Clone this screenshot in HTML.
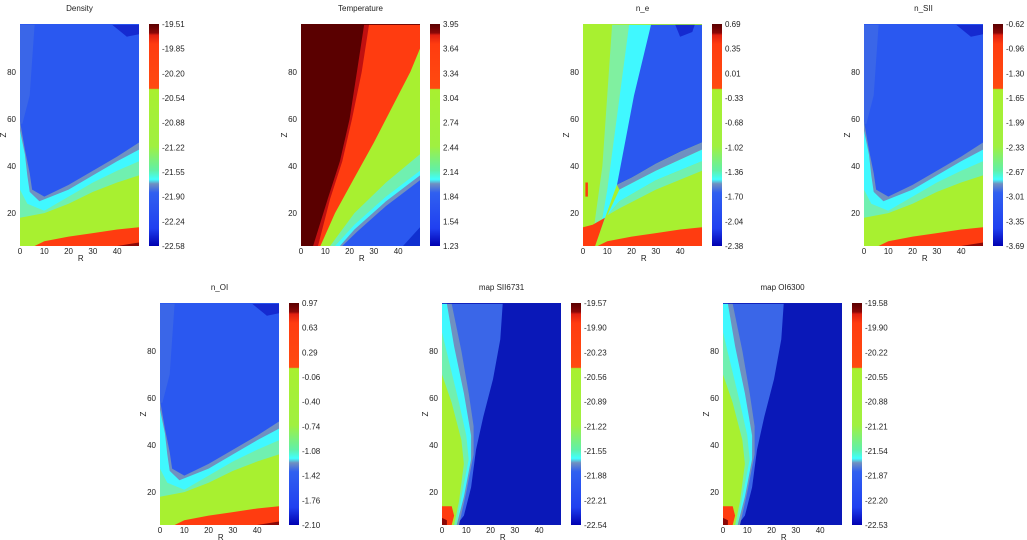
<!DOCTYPE html>
<html><head><meta charset="utf-8"><style>
html,body{margin:0;padding:0;background:#fff;}
svg{display:block;font-family:"Liberation Sans",sans-serif;}
text{font-size:8px;fill:#222;}
</style></head><body>
<svg id="fig" width="1027" height="540" viewBox="0 0 1027 540">
<defs>
<linearGradient id="cmap" x1="0" y1="0" x2="0" y2="1">
<stop offset="0" stop-color="#5a0000"/><stop offset="0.04" stop-color="#8a0808"/>
<stop offset="0.05" stop-color="#e02010"/><stop offset="0.09" stop-color="#ff3c10"/>
<stop offset="0.29" stop-color="#ff4a10"/><stop offset="0.295" stop-color="#a8f030"/>
<stop offset="0.55" stop-color="#a0f040"/><stop offset="0.66" stop-color="#60f0a8"/>
<stop offset="0.7" stop-color="#40ffff"/><stop offset="0.72" stop-color="#7090c0"/>
<stop offset="0.76" stop-color="#3060f0"/><stop offset="0.92" stop-color="#2040f0"/>
<stop offset="1" stop-color="#0000b0"/>
</linearGradient>
</defs>
</svg>
<script>
const titles=["Density","Temperature","n_e","n_SII","n_OI","map SII6731","map OI6300"];
const cbDensity=["-19.51","-19.85","-20.20","-20.54","-20.88","-21.22","-21.55","-21.90","-22.24","-22.58"];
const cbTemp=["3.95","3.64","3.34","3.04","2.74","2.44","2.14","1.84","1.54","1.23"];
const cbNe=["0.69","0.35","0.01","-0.33","-0.68","-1.02","-1.36","-1.70","-2.04","-2.38"];
const cbNSII=["-0.62","-0.96","-1.30","-1.65","-1.99","-2.33","-2.67","-3.01","-3.35","-3.69"];
const cbNOI=["0.97","0.63","0.29","-0.06","-0.40","-0.74","-1.08","-1.42","-1.76","-2.10"];
const cbSII=["-19.57","-19.90","-20.23","-20.56","-20.89","-21.22","-21.55","-21.88","-22.21","-22.54"];
const cbOI=["-19.58","-19.90","-20.22","-20.55","-20.88","-21.21","-21.54","-21.87","-22.20","-22.53"];
const xTicks=[0,10,20,30,40];
const yTicks=[20,40,60,80];
const densityLayers=[
 ["#3a66e8",[[0,100],[6,100],[4,70],[1,58],[0,58]]],
 ["#7090c0",[[0,59],[2,47],[4,37],[5,30],[10,27],[20,32],[30,38],[40,44],[49,50],[49,6],[0,6]]],
 ["#40f8ff",[[0,55],[2,45],[3,36],[4,29],[8,25],[20,30],[30,36],[40,42],[49,47],[49,6],[0,6]]],
 ["#70f0b0",[[0,30],[3,24],[10,21],[20,27],[30,33],[40,38],[49,42],[49,6],[0,6]]],
 ["#a8f030",[[0,18],[10,20],[20,24],[30,29],[40,33],[49,36],[49,6],[0,6]]],
 ["#ff3c10",[[6,6],[10,8],[20,10],[30,11.5],[40,13],[49,14],[49,6]]],
 ["#8a0808",[[40,6],[49,7.5],[49,6]]],
 ["#152ad0",[[38,100],[44,95],[49,96],[49,100]]]
];
const tempLayers=[
 ["#c01010",[[26,100],[23,80],[20,60],[16,42],[11,26],[5,6],[49,6],[49,100]]],
 ["#ff3c10",[[28,100],[25,80],[21,60],[17,42],[12,26],[7,6],[49,6],[49,100]]],
 ["#a8f030",[[49,90],[45,80],[38,66],[30,50],[22,35],[14,20],[8,6],[49,6]]],
 ["#70f0b0",[[49,45],[35,33],[22,20],[12,6],[49,6]]],
 ["#40f8ff",[[49,38],[35,27],[22,15],[14,6],[49,6]]],
 ["#7090c0",[[49,36],[35,25],[22,13],[16,6],[49,6]]],
 ["#2a58f0",[[49,34],[35,23],[23,12],[17,6],[49,6]]],
 ["#1030d0",[[49,14],[42,6],[49,6]]]
];
const neLayers=[
 ["#80f0a0",[[12,100],[26,100],[20,70],[14,40],[9,18],[4,10],[8,40]]],
 ["#40f8ff",[[19,100],[28,100],[22,70],[15,35],[7,12],[10,30]]],
 ["#2a58f0",[[28,100],[21,70],[14,32],[20,35],[30,41],[40,46],[49,50],[49,100]]],
 ["#7090c0",[[14,32],[20,35],[30,41],[40,46],[49,50],[49,47],[30,38],[15,30]]],
 ["#40f8ff",[[15,30],[30,38],[49,47],[49,42],[30,34],[15,25],[10,19]]],
 ["#70f0b0",[[10,19],[15,25],[30,34],[49,42],[49,38],[30,30],[15,22]]],
 ["#ff3c10",[[6,6],[10,8],[20,10],[30,11.5],[40,13],[49,14],[49,6]]],
 ["#ff3c10",[[0,6],[0,14],[4,15],[9,18],[5,6]]],
 ["#ff3c10",[[1,27],[2,27],[2,33],[1,33]]],
 ["#152ad0",[[40,95],[45,97],[46,100],[38,100]]]
];
const mapSIILayers=[
 ["#3a66e8",[[0,100],[25,100],[24,85],[21,68],[17,52],[14,38],[12,22],[9,10],[6,6],[0,6]]],
 ["#7090c0",[[0,100],[4,100],[8,80],[11,62],[13,48],[13,36],[10,20],[7,6],[0,6]]],
 ["#40f8ff",[[0,100],[2,100],[5,82],[9,62],[12,44],[12,34],[9,18],[6,6],[0,6]]],
 ["#70f0b0",[[0,88],[3,75],[7,58],[10,44],[11,34],[8,18],[6,6],[0,6]]],
 ["#a8f030",[[0,70],[4,58],[8,42],[9,32],[7,16],[5,6],[0,6]]],
 ["#ff3c10",[[0,6],[0,14],[4,14],[5,10],[4,6]]],
 ["#8a0808",[[0,6],[0,9],[2,8],[2,6]]]
];
const panels=[
 {px:20,py:24,cb:cbDensity,layers:densityLayers,bg:"#2a58f0"},
 {px:301,py:24,cb:cbTemp,layers:tempLayers,bg:"#5a0000"},
 {px:583,py:24,cb:cbNe,layers:neLayers,bg:"#a8f030"},
 {px:864,py:24,cb:cbNSII,layers:densityLayers,bg:"#2a58f0"},
 {px:160,py:303,cb:cbNOI,layers:densityLayers,bg:"#2a58f0"},
 {px:442,py:303,cb:cbSII,layers:mapSIILayers,bg:"#0a18b8"},
 {px:723,py:303,cb:cbOI,layers:mapSIILayers,bg:"#0a18b8"}
];
const NS="http://www.w3.org/2000/svg";
const svg=document.getElementById('fig');
function mk(tag,attrs,parent){const e=document.createElementNS(NS,tag);for(const k in attrs)e.setAttribute(k,attrs[k]);(parent||svg).appendChild(e);return e;}
const W=119,H=222,RMAX=49,ZMIN=6,ZMAX=100.4;
panels.forEach((p,i)=>{
 const g=mk('g',{});
 
 
 const xs=r=>p.px+r/RMAX*W, ys=z=>p.py+(ZMAX-z)/(ZMAX-ZMIN)*H;
 const clipId='c'+i;
 const cp=mk('clipPath',{id:clipId},g);mk('rect',{x:p.px,y:p.py,width:W,height:H},cp);
 const bg=mk('rect',{x:p.px,y:p.py,width:W,height:H,fill:p.bg},g);
 
 
 const lg=mk('g',{'clip-path':'url(#'+clipId+')'},g);
 p.layers.forEach(l=>{
  const pg=mk('polygon',{points:l[1].map(q=>xs(q[0]).toFixed(1)+','+ys(q[1]).toFixed(1)).join(' '),fill:l[0]},lg);
  
  
 });
 const t=mk('text',{x:p.px+W/2,y:p.py-13,'text-anchor':'middle'},g);t.textContent=titles[i];
 
 
 xTicks.forEach(v=>{const tx=mk('text',{x:xs(v),y:p.py+H+8,'text-anchor':'middle'},g);tx.textContent=v;
  
  });
 yTicks.forEach(v=>{const ty=mk('text',{x:p.px-4,y:ys(v)+3,'text-anchor':'end'},g);ty.textContent=v;
  
  });
 const xl=mk('text',{x:xs(25),y:p.py+H+15,'text-anchor':'middle'},g);xl.textContent='R';
 
 
 const yl=mk('text',{x:p.px-14,y:p.py+H/2,'text-anchor':'middle',transform:'rotate(-90 '+(p.px-14)+' '+(p.py+H/2)+')'},g);yl.textContent='Z';
 
 
 const cx=p.px+W+10;
 const cbr=mk('rect',{x:cx,y:p.py,width:10,height:H,fill:'url(#cmap)'},g);
 
 
 p.cb.forEach((lab,k)=>{const yy=p.py+k*H/(p.cb.length-1);
  const ct=mk('text',{x:cx+13,y:yy+3},g);ct.textContent=lab;
  
  });
});
</script>
</body></html>
